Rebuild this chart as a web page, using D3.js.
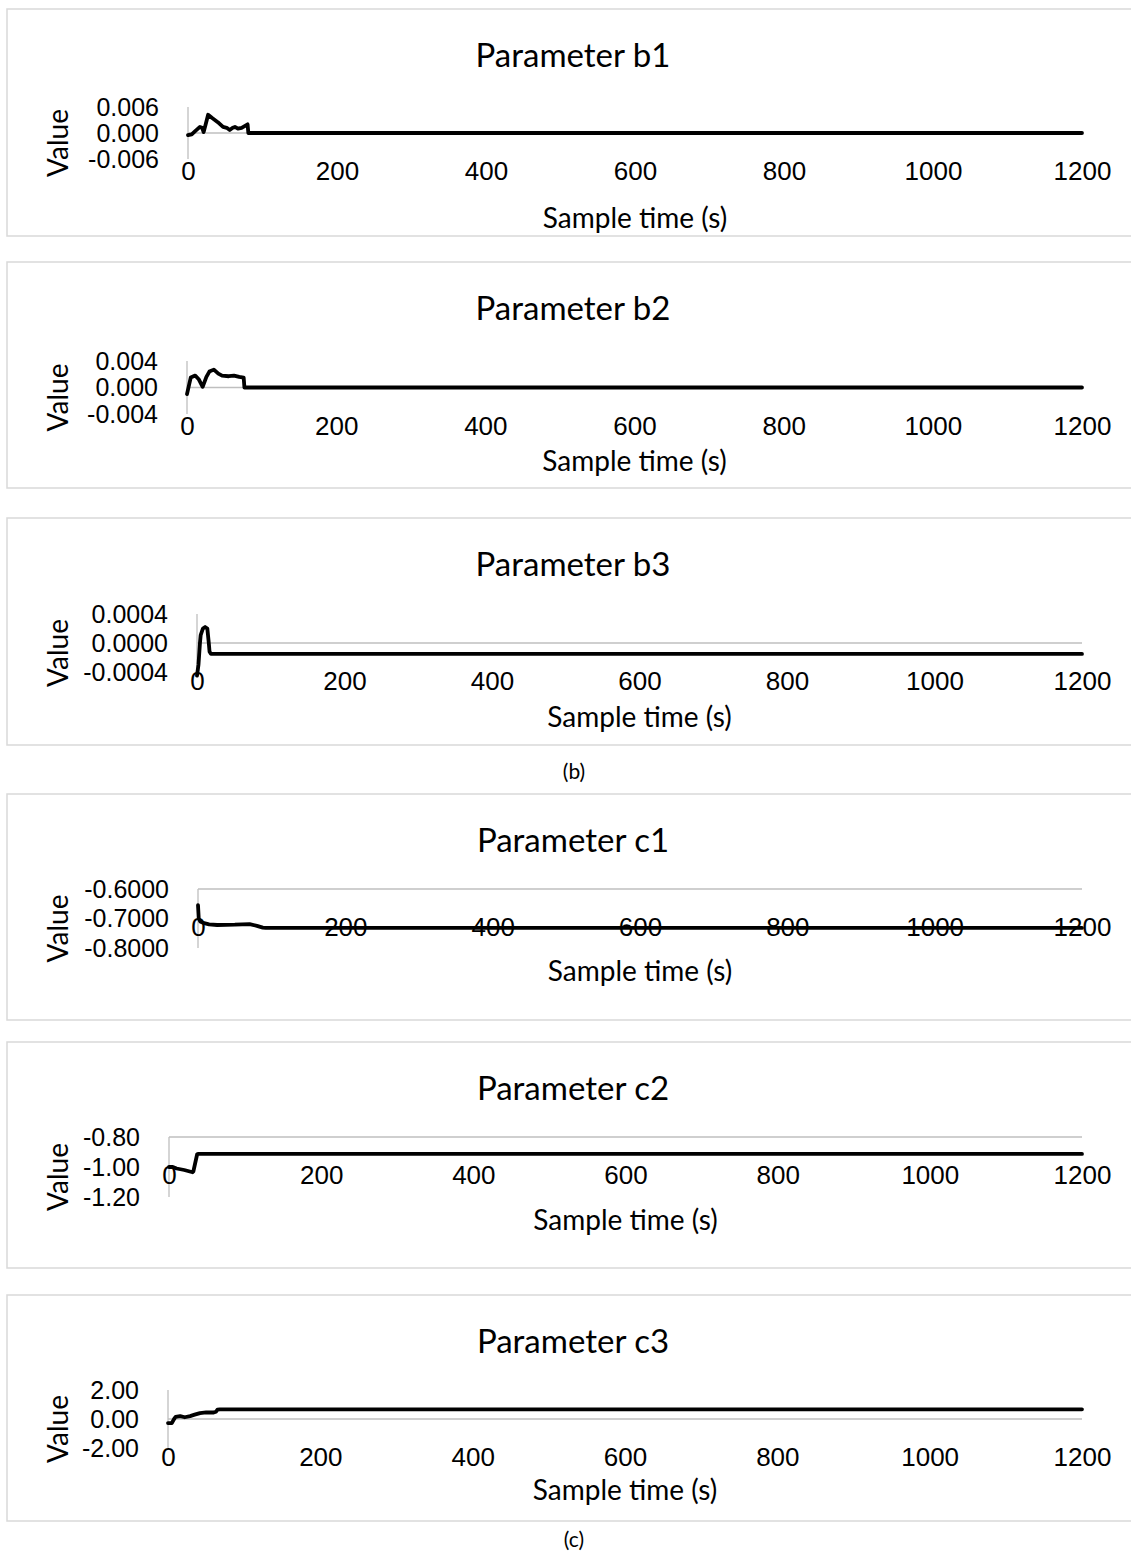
<!DOCTYPE html>
<html>
<head>
<meta charset="utf-8">
<script src="https://cdn.jsdelivr.net/npm/d3@7"></script>
<style>
  html, body { margin: 0; padding: 0; background: #fff; }
  svg { display: block; font-family: Lato, "Open Sans", sans-serif; }
  .frame { fill: none; stroke: #d9d9d9; stroke-width: 1.5; }
  .axis-line { stroke: #bfbfbf; stroke-width: 1.3; }
  .series { fill: none; stroke: #000; stroke-width: 3.8; stroke-linejoin: round; stroke-linecap: round; }
</style>
</head>
<body>
<svg id="chart"></svg>
<script>
/* ------------------ data ------------------ */

const xTicks = [0, 200, 400, 600, 800, 1000, 1200];

const b1Time  = [0, 5, 10, 16, 19, 21, 24, 27, 32, 40, 47, 52, 56, 60, 63, 67, 72, 76, 80, 81, 1200];
const b1Value = [-0.0005, -0.0003, 0.0005, 0.0014, 0.0012, 0.0002, 0.0022, 0.0042, 0.0035, 0.0025, 0.0014, 0.0012, 0.0007, 0.0012, 0.0014, 0.0010, 0.0012, 0.0016, 0.0020, 0, 0];

const b2Time  = [0, 3, 5, 11, 16, 21, 26, 30, 36, 42, 47, 56, 63, 70, 76, 77, 1200];
const b2Value = [-0.001, 0.0005, 0.0015, 0.0018, 0.0012, 0.0001, 0.0016, 0.0024, 0.0027, 0.0021, 0.0018, 0.0017, 0.0018, 0.0016, 0.0015, 0, 0];

const b3Time  = [0, 2, 4, 5, 8, 11, 14, 16, 17, 19, 1200];
const b3Value = [-0.00045, -0.0003, 0.0, 0.00011, 0.0002, 0.00022, 0.0002, 0.0, -0.00012, -0.00015, -0.00015];

const c1Time  = [0, 1, 3, 7, 15, 26, 50, 70, 80, 88, 92, 1200];
const c1Value = [-0.655, -0.70, -0.71, -0.715, -0.72, -0.722, -0.721, -0.719, -0.725, -0.731, -0.732, -0.732];

const c2Time  = [0, 5, 10, 20, 31, 32, 37, 38, 1200];
const c2Value = [-1.00, -1.00, -1.01, -1.02, -1.035, -1.03, -0.915, -0.913, -0.913];

const c3Time  = [0, 5, 8, 10, 16, 22, 29, 35, 42, 50, 60, 63, 65, 68, 1200];
const c3Value = [-0.28, -0.28, 0.0, 0.14, 0.2, 0.12, 0.2, 0.3, 0.41, 0.45, 0.45, 0.5, 0.65, 0.67, 0.67];

const panelTitles = ["Parameter b1", "Parameter b2", "Parameter b3", "Parameter c1", "Parameter c2", "Parameter c3"];
const panelDomains = [[-0.006, 0.006], [-0.004, 0.004], [-0.0004, 0.0004], [-0.8, -0.6], [-1.2, -0.8], [-2, 2]];
const panelTicks = [
  [-0.006, 0, 0.006],
  [-0.004, 0, 0.004],
  [-0.0004, 0, 0.0004],
  [-0.8, -0.7, -0.6],
  [-1.2, -1.0, -0.8],
  [-2, 0, 2]
];
const panelCross = [0, 0, 0, -0.6, -0.8, 0];
const panelDecimals = [3, 3, 4, 4, 2, 2];
const panelSeries = [
  [b1Time, b1Value], [b2Time, b2Value], [b3Time, b3Value],
  [c1Time, c1Value], [c2Time, c2Value], [c3Time, c3Value]
];

const xTitle = "Sample time (s)";
const yTitle = "Value";
const captions = ["(b)", "(c)"];

/* ------------------ layout ------------------ */

const WIDTH = 1131;
const HEIGHT = 1556;
const X_RIGHT = 1082;

// per panel: frame top/bottom, plot top/bottom, y axis x, x-title y
const layout = [
  { top: 9,    bottom: 236,  pTop: 107,  pBot: 159,  left: 188, xTitleY: 218 },
  { top: 262,  bottom: 488,  pTop: 361,  pBot: 414,  left: 187, xTitleY: 461 },
  { top: 518,  bottom: 745,  pTop: 614,  pBot: 672,  left: 197, xTitleY: 717 },
  { top: 794,  bottom: 1020, pTop: 889,  pBot: 948,  left: 198, xTitleY: 971 },
  { top: 1042, bottom: 1268, pTop: 1137, pBot: 1197, left: 169, xTitleY: 1220 },
  { top: 1295, bottom: 1521, pTop: 1390, pBot: 1448, left: 168, xTitleY: 1490 }
];
const captionY = [772, 1540];

/* ------------------ render ------------------ */

const locale = d3.formatLocale({ decimal: ".", thousands: ",", grouping: [3], currency: ["$", ""], minus: "-" });

const svg = d3.select("#chart").attr("width", WIDTH).attr("height", HEIGHT);

panelTitles.forEach((title, i) => {
  const L = layout[i];
  const g = svg.append("g");

  g.append("rect")
    .attr("class", "frame")
    .attr("x", 7)
    .attr("y", L.top)
    .attr("width", 1130)
    .attr("height", L.bottom - L.top);

  const x = d3.scaleLinear().domain([0, 1200]).range([L.left, X_RIGHT]);
  const y = d3.scaleLinear().domain(panelDomains[i]).range([L.pBot, L.pTop]);

  // title
  g.append("text")
    .attr("x", 573)
    .attr("y", L.top + 46)
    .attr("dy", "0.35em")
    .attr("text-anchor", "middle")
    .style("font-size", "33px")
    .style("fill", "#000")
    .text(title);

  // y axis
  const yAxis = d3.axisLeft(y)
    .tickValues(panelTicks[i])
    .tickSize(0)
    .tickPadding(29)
    .tickFormat(locale.format("." + panelDecimals[i] + "f"));

  const yg = g.append("g").attr("transform", `translate(${L.left},0)`).call(yAxis);
  yg.select(".domain").remove();
  yg.selectAll("text").style("font-size", "25px").style("fill", "#000").attr("font-family", null);

  g.append("line")
    .attr("class", "axis-line")
    .attr("x1", L.left).attr("x2", L.left)
    .attr("y1", L.pTop).attr("y2", L.pBot);

  // x axis at crossing value
  const crossY = y(panelCross[i]);
  const xAxis = d3.axisBottom(x).tickValues(xTicks).tickSize(0).tickFormat(d3.format("d"));
  const xg = g.append("g").attr("transform", `translate(0,${crossY})`).call(xAxis);
  xg.select(".domain").remove();
  xg.selectAll("text")
    .attr("y", 38)
    .attr("dy", "0.35em")
    .style("font-size", "26px")
    .style("fill", "#000");

  g.append("line")
    .attr("class", "axis-line")
    .attr("x1", L.left).attr("x2", X_RIGHT)
    .attr("y1", crossY).attr("y2", crossY);

  // axis titles
  g.append("text")
    .attr("x", (L.left + X_RIGHT) / 2)
    .attr("y", L.xTitleY)
    .attr("dy", "0.35em")
    .attr("text-anchor", "middle")
    .style("font-size", "28px")
    .text(xTitle);

  g.append("text")
    .attr("transform", `translate(58,${(L.pTop + L.pBot) / 2 + 10}) rotate(-90)`)
    .attr("dy", "0.35em")
    .attr("text-anchor", "middle")
    .style("font-size", "28px")
    .text(yTitle);

  // series
  const [ts, vs] = panelSeries[i];
  const pts = ts.map((t, k) => [t, vs[k]]);
  g.append("path")
    .attr("class", "series")
    .attr("d", d3.line().x(d => x(d[0])).y(d => y(d[1]))(pts));
});

captions.forEach((c, i) => {
  svg.append("text")
    .attr("x", 574)
    .attr("y", captionY[i])
    .attr("dy", "0.35em")
    .attr("text-anchor", "middle")
    .style("font-size", "21px")
    .text(c);
});
</script>
</body>
</html>
